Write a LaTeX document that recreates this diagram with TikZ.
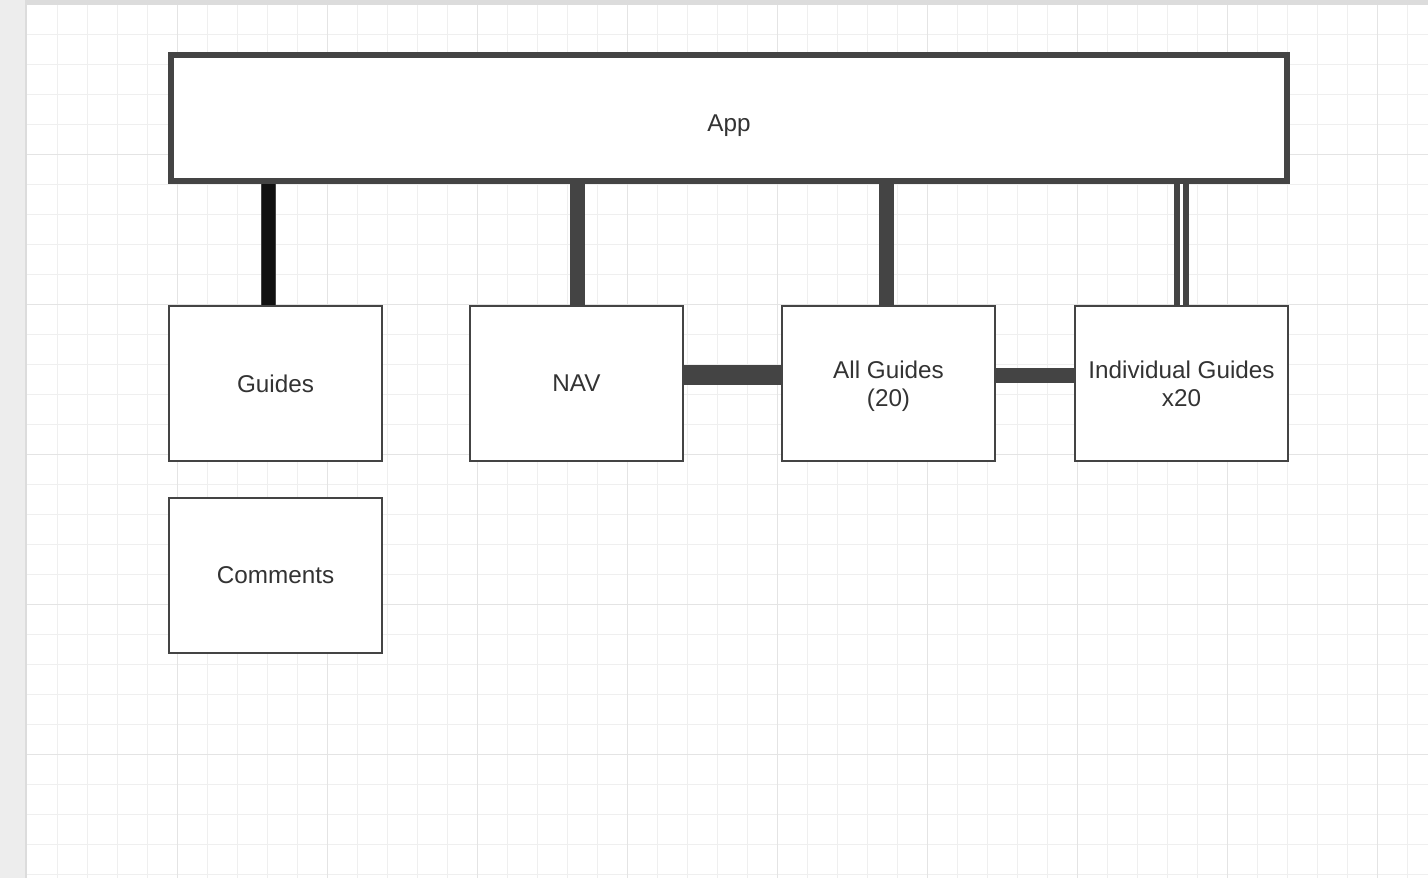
\documentclass[tikz,border=0pt]{standalone}
\usepackage{fontspec}
\setmainfont{Liberation Sans}
\definecolor{stroke}{HTML}{444444}
\definecolor{txt}{HTML}{333333}
\definecolor{gridminor}{HTML}{EFEFEF}
\definecolor{gridmajor}{HTML}{E4E4E4}
\definecolor{sidegray}{HTML}{EDEDED}
\definecolor{topgray}{HTML}{DCDCDC}
\definecolor{blackish}{HTML}{111111}
\tikzset{
  box/.style={draw=stroke, line width=1.5pt, fill=white, minimum width=159.75pt, minimum height=116.25pt, inner sep=0pt, text=txt, font=\fontsize{18.2}{21}\selectfont, align=center},
  appbox/.style={draw=stroke, line width=4.5pt, fill=white, minimum width=837pt, minimum height=94.5pt, inner sep=0pt, text=txt, font=\fontsize{18.2}{21}\selectfont, text height=19.6pt, text depth=0pt},
  conn/.style={draw=stroke, line width=11.25pt},
  connwide/.style={draw=stroke, line width=15pt},
  connblack/.style={draw=stroke, line width=0.75pt, double=blackish, double distance=9.75pt},
  conndouble/.style={draw=stroke, line width=4.5pt, double=white, double distance=2.25pt}
}
\begin{document}
\begin{tikzpicture}[x=0.75pt,y=-0.75pt]
\useasboundingbox (0,0) rectangle (1428,878);
% background
\fill[white] (0,0) rectangle (1428,878);
\foreach \x in {57,87,...,1407} \draw[gridminor, line width=0.75pt] (\x,5) -- (\x,878);
\foreach \y in {34,64,...,874} \draw[gridminor, line width=0.75pt] (27,\y) -- (1428,\y);
\foreach \x in {177,327,...,1377} \draw[gridmajor, line width=0.75pt] (\x,5) -- (\x,878);
\foreach \y in {154,304,...,754} \draw[gridmajor, line width=0.75pt] (27,\y) -- (1428,\y);
\fill[topgray] (25,0) rectangle (1428,5);
\fill[sidegray] (0,0) rectangle (25,878);
\fill[topgray] (25,0) rectangle (27,878);
% nodes
\node[appbox] (App) at (729,118) {App};
\node[box] (Guides) at (275.5,383.5) {Guides};
\node[box] (Comments) at (275.5,575.5) {Comments};
\node[box] (NAV) at (576.5,383.5) {NAV};
\node[box, text depth=0pt] (AllG) at (888.5,383.5) {All Guides\\(20)};
\node[box] (Indiv) at (1181.5,383.5) {Individual Guides\\x20};
% connectors
\draw[connblack] (Guides.north -| 268.5,0) -- (App.south -| 268.5,0);
\draw[conn] (NAV.north -| 577.5,0) -- (App.south -| 577.5,0);
\draw[conn] (AllG.north -| 886,0) -- (App.south -| 886,0);
\draw[conndouble] (Indiv.north) -- (App.south -| Indiv.north);
\draw[connwide] (NAV.east |- 0,375) -- (AllG.west |- 0,375);
\draw[conn] (AllG.east |- 0,375.5) -- (Indiv.west |- 0,375.5);
\end{tikzpicture}
\end{document}
